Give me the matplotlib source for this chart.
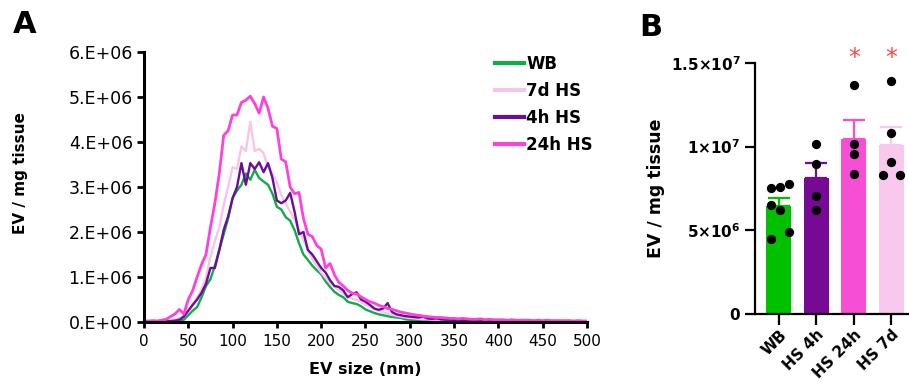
import numpy as np
import matplotlib
matplotlib.use("Agg")
import matplotlib.pyplot as plt

plt.rcParams['font.family'] = ['DejaVu Sans']
plt.rcParams['mathtext.fontset'] = 'dejavusans'

# ---- panel A: size distributions (values in 1e6 EV / mg tissue) ----
sizes = np.arange(0, 501, 5)

wb = [0.01, 0.01, 0.01, 0.01, 0.01, 0.01, 0.02, 0.02, 0.03, 0.05,
      0.15, 0.25, 0.33, 0.55, 0.80, 0.95, 1.25, 1.60, 1.95, 2.30,
      2.75, 2.92, 3.05, 3.30, 3.16, 3.38, 3.20, 3.12, 3.05, 2.85,
      2.56, 2.50, 2.33, 2.25, 2.04, 1.75, 1.50, 1.38, 1.25, 1.15,
      1.06, 0.90, 0.78, 0.67, 0.60, 0.55, 0.45, 0.42, 0.40, 0.35,
      0.28, 0.24, 0.20, 0.17, 0.15, 0.13, 0.11, 0.10, 0.09, 0.06,
      0.05, 0.04, 0.04, 0.03, 0.03, 0.03, 0.02, 0.02, 0.02, 0.02,
      0.02, 0.01, 0.02, 0.01, 0.01, 0.01, 0.01, 0.01, 0.01, 0.01,
      0.01, 0.01, 0.01, 0.01, 0.01, 0.01, 0.01, 0.01, 0.01, 0.01,
      0.01, 0.01, 0.01, 0.01, 0.01, 0.01, 0.01, 0.01, 0.01, 0.01,
      0.01]

hs_7d = [0.01, 0.01, 0.01, 0.02, 0.02, 0.03, 0.04, 0.05, 0.08, 0.15,
         0.25, 0.40, 0.55, 0.72, 1.00, 1.45, 1.80, 2.10, 2.60, 3.00,
         3.44, 3.40, 3.90, 3.80, 4.45, 3.80, 3.85, 3.75, 3.45, 3.30,
         3.10, 2.82, 2.64, 2.45, 2.27, 2.05, 1.82, 1.60, 1.40, 1.25,
         1.10, 0.98, 0.87, 0.78, 0.71, 0.63, 0.56, 0.52, 0.49, 0.44,
         0.38, 0.33, 0.28, 0.25, 0.22, 0.19, 0.16, 0.14, 0.12, 0.10,
         0.09, 0.08, 0.07, 0.06, 0.06, 0.05, 0.05, 0.04, 0.04, 0.04,
         0.03, 0.03, 0.03, 0.03, 0.02, 0.02, 0.02, 0.02, 0.02, 0.02,
         0.02, 0.02, 0.02, 0.02, 0.02, 0.02, 0.02, 0.02, 0.02, 0.02,
         0.01, 0.01, 0.01, 0.01, 0.01, 0.01, 0.01, 0.01, 0.01, 0.01,
         0.01]

hs_4h = [0.02, 0.02, 0.02, 0.02, 0.02, 0.02, 0.02, 0.03, 0.05, 0.12,
         0.25, 0.38, 0.50, 0.65, 0.85, 1.20, 1.20, 1.60, 2.05, 2.35,
         2.75, 3.00, 3.53, 3.05, 3.53, 3.40, 3.55, 3.33, 3.53, 3.20,
         2.70, 2.64, 2.70, 2.87, 2.45, 1.95, 2.00, 1.60, 1.50, 1.35,
         1.20, 1.10, 0.93, 0.80, 0.78, 0.70, 0.55, 0.62, 0.66, 0.50,
         0.45, 0.38, 0.30, 0.27, 0.30, 0.42, 0.22, 0.17, 0.15, 0.13,
         0.12, 0.11, 0.10, 0.12, 0.08, 0.07, 0.08, 0.06, 0.05, 0.05,
         0.04, 0.05, 0.04, 0.04, 0.03, 0.04, 0.03, 0.03, 0.03, 0.03,
         0.03, 0.02, 0.03, 0.02, 0.02, 0.02, 0.02, 0.02, 0.02, 0.02,
         0.02, 0.02, 0.02, 0.02, 0.02, 0.02, 0.02, 0.02, 0.02, 0.02,
         0.02]

hs_24h = [0.02, 0.02, 0.03, 0.02, 0.04, 0.06, 0.12, 0.18, 0.28, 0.18,
          0.50, 0.70, 1.00, 1.28, 1.50, 2.10, 2.64, 3.30, 4.15, 4.25,
          4.60, 4.60, 4.88, 4.93, 5.02, 4.85, 4.64, 5.00, 4.75, 4.35,
          4.30, 3.62, 3.56, 3.00, 2.85, 2.88, 2.30, 1.95, 1.90, 1.70,
          1.62, 1.20, 1.30, 1.05, 0.88, 0.80, 0.70, 0.64, 0.62, 0.56,
          0.50, 0.45, 0.42, 0.37, 0.34, 0.30, 0.28, 0.25, 0.22, 0.20,
          0.18, 0.16, 0.15, 0.13, 0.12, 0.11, 0.10, 0.10, 0.09, 0.08,
          0.08, 0.07, 0.08, 0.07, 0.06, 0.06, 0.07, 0.05, 0.06, 0.05,
          0.05, 0.05, 0.04, 0.05, 0.04, 0.04, 0.04, 0.04, 0.03, 0.04,
          0.03, 0.04, 0.03, 0.03, 0.03, 0.03, 0.03, 0.02, 0.03, 0.02,
          0.02]

line_labels = ["WB", "7d HS", "4h HS", "24h HS"]
line_colors = ["#13aa4a", "#f6c6e8", "#6a0e98", "#ff40dc"]
a_yticks = [0, 1e6, 2e6, 3e6, 4e6, 5e6, 6e6]
a_yticklabels = ["0.E+00", "1.E+06", "2.E+06", "3.E+06", "4.E+06", "5.E+06", "6.E+06"]
a_xticks = [0, 50, 100, 150, 200, 250, 300, 350, 400, 450, 500]

# ---- panel B: EV yield per group ----
groups = ["WB", "HS 4h", "HS 24h", "HS 7d"]
bar_colors = ["#00c000", "#760a94", "#f64fd6", "#f8c8ee"]
pts_wb = [7.54e6, 7.60e6, 7.74e6, 6.51e6, 6.21e6, 4.48e6, 4.92e6]
pts_4h = [10.14e6, 8.99e6, 7.06e6, 6.21e6]
pts_24h = [13.71e6, 10.18e6, 9.58e6, 8.39e6]
pts_7d = [13.91e6, 10.83e6, 9.09e6, 8.29e6, 8.29e6]
jitter = [[-0.2, 0.04, 0.26, -0.2, 0.02, -0.2, 0.26],
          [0, 0, 0, 0],
          [0, 0, 0, 0],
          [0, 0, 0, -0.21, 0.23]]
significant = [False, False, True, True]
b_yticks = [0, 5e6, 1e7, 1.5e7]
b_yticklabels = [r"$\mathbf{0}$", r"$\mathbf{5{\times}10^{6}}$",
                 r"$\mathbf{1{\times}10^{7}}$", r"$\mathbf{1.5{\times}10^{7}}$"]

fig = plt.figure(figsize=(9.09, 3.84), dpi=100)

# panel A
ax = fig.add_axes([0.1584, 0.1615, 0.4873, 0.7031])
for vals, lab, col in zip([wb, hs_7d, hs_4h, hs_24h], line_labels, line_colors):
    lw = 2.0 if lab == "24h HS" else 1.7
    ax.plot(sizes, np.array(vals) * 1e6, color=col, lw=lw, label=lab)
ax.set_xlim(0, 500)
ax.set_ylim(0, 6e6)
ax.set_xticks(a_xticks)
ax.set_yticks(a_yticks)
ax.set_yticklabels(a_yticklabels)
ax.tick_params(axis='both', width=2, direction='out')
ax.tick_params(axis='y', length=5, pad=3, labelsize=12.5)
ax.tick_params(axis='x', length=4, pad=5, labelsize=11)
for s in ['top', 'right']:
    ax.spines[s].set_visible(False)
for s in ['left', 'bottom']:
    ax.spines[s].set_linewidth(2.2)
ax.set_xlabel("EV size (nm)", fontsize=11.5, fontweight='bold')
ax.set_ylabel("EV / mg tissue", fontsize=11, fontweight='bold')
ax.xaxis.set_label_coords(0.5, -0.15)
ax.yaxis.set_label_coords(-0.262, 0.55)
leg = ax.legend(loc='upper left', bbox_to_anchor=(0.792, 0.99), frameon=False,
                prop={'weight': 'bold', 'size': 12}, handlelength=1.75,
                handletextpad=0.15, labelspacing=0.55, borderpad=0, borderaxespad=0)
for h in leg.get_lines():
    h.set_linewidth(3)

# panel B
bx = fig.add_axes([0.8306, 0.1823, 0.17, 0.6537])
all_pts = [pts_wb, pts_4h, pts_24h, pts_7d]
xpos = np.arange(len(groups))
means = [np.mean(p) for p in all_pts]
sems = [np.std(p, ddof=1) / np.sqrt(len(p)) for p in all_pts]
bx.bar(xpos, means, width=0.67, color=bar_colors, zorder=1)
for i in range(len(groups)):
    bx.errorbar(xpos[i], means[i], yerr=[[0], [sems[i]]], fmt='none',
                ecolor=bar_colors[i], elinewidth=1.6, capsize=8, capthick=1.6, zorder=2)
    bx.scatter(xpos[i] + np.array(jitter[i]), all_pts[i], s=32, color='black', zorder=3)
    if significant[i]:
        bx.text(xpos[i], 1.53e7, "*", color='#ff4848', fontsize=17, ha='center',
                va='center', clip_on=False)
bx.set_xlim(-0.64, 3.49)
bx.set_ylim(0, 1.5e7)
bx.set_yticks(b_yticks)
bx.set_yticklabels(b_yticklabels)
bx.set_xticks(xpos)
bx.set_xticklabels(groups, rotation=45, ha='right', rotation_mode='anchor',
                   fontsize=11, fontweight='bold')
bx.tick_params(axis='y', labelsize=11, width=1.6, length=7)
bx.tick_params(axis='x', width=1.6, length=8, pad=1.5)
for s in ['top', 'right']:
    bx.spines[s].set_visible(False)
for s in ['left', 'bottom']:
    bx.spines[s].set_linewidth(1.6)
bx.set_ylabel("EV / mg tissue", fontsize=12.5, fontweight='bold')
bx.yaxis.set_label_coords(-0.58, 0.5)

fig.text(0.014, 0.975, "A", fontsize=22, fontweight='bold', va='top')
fig.text(0.703, 0.965, "B", fontsize=22, fontweight='bold', va='top')

fig.savefig("out.png", dpi=100)
